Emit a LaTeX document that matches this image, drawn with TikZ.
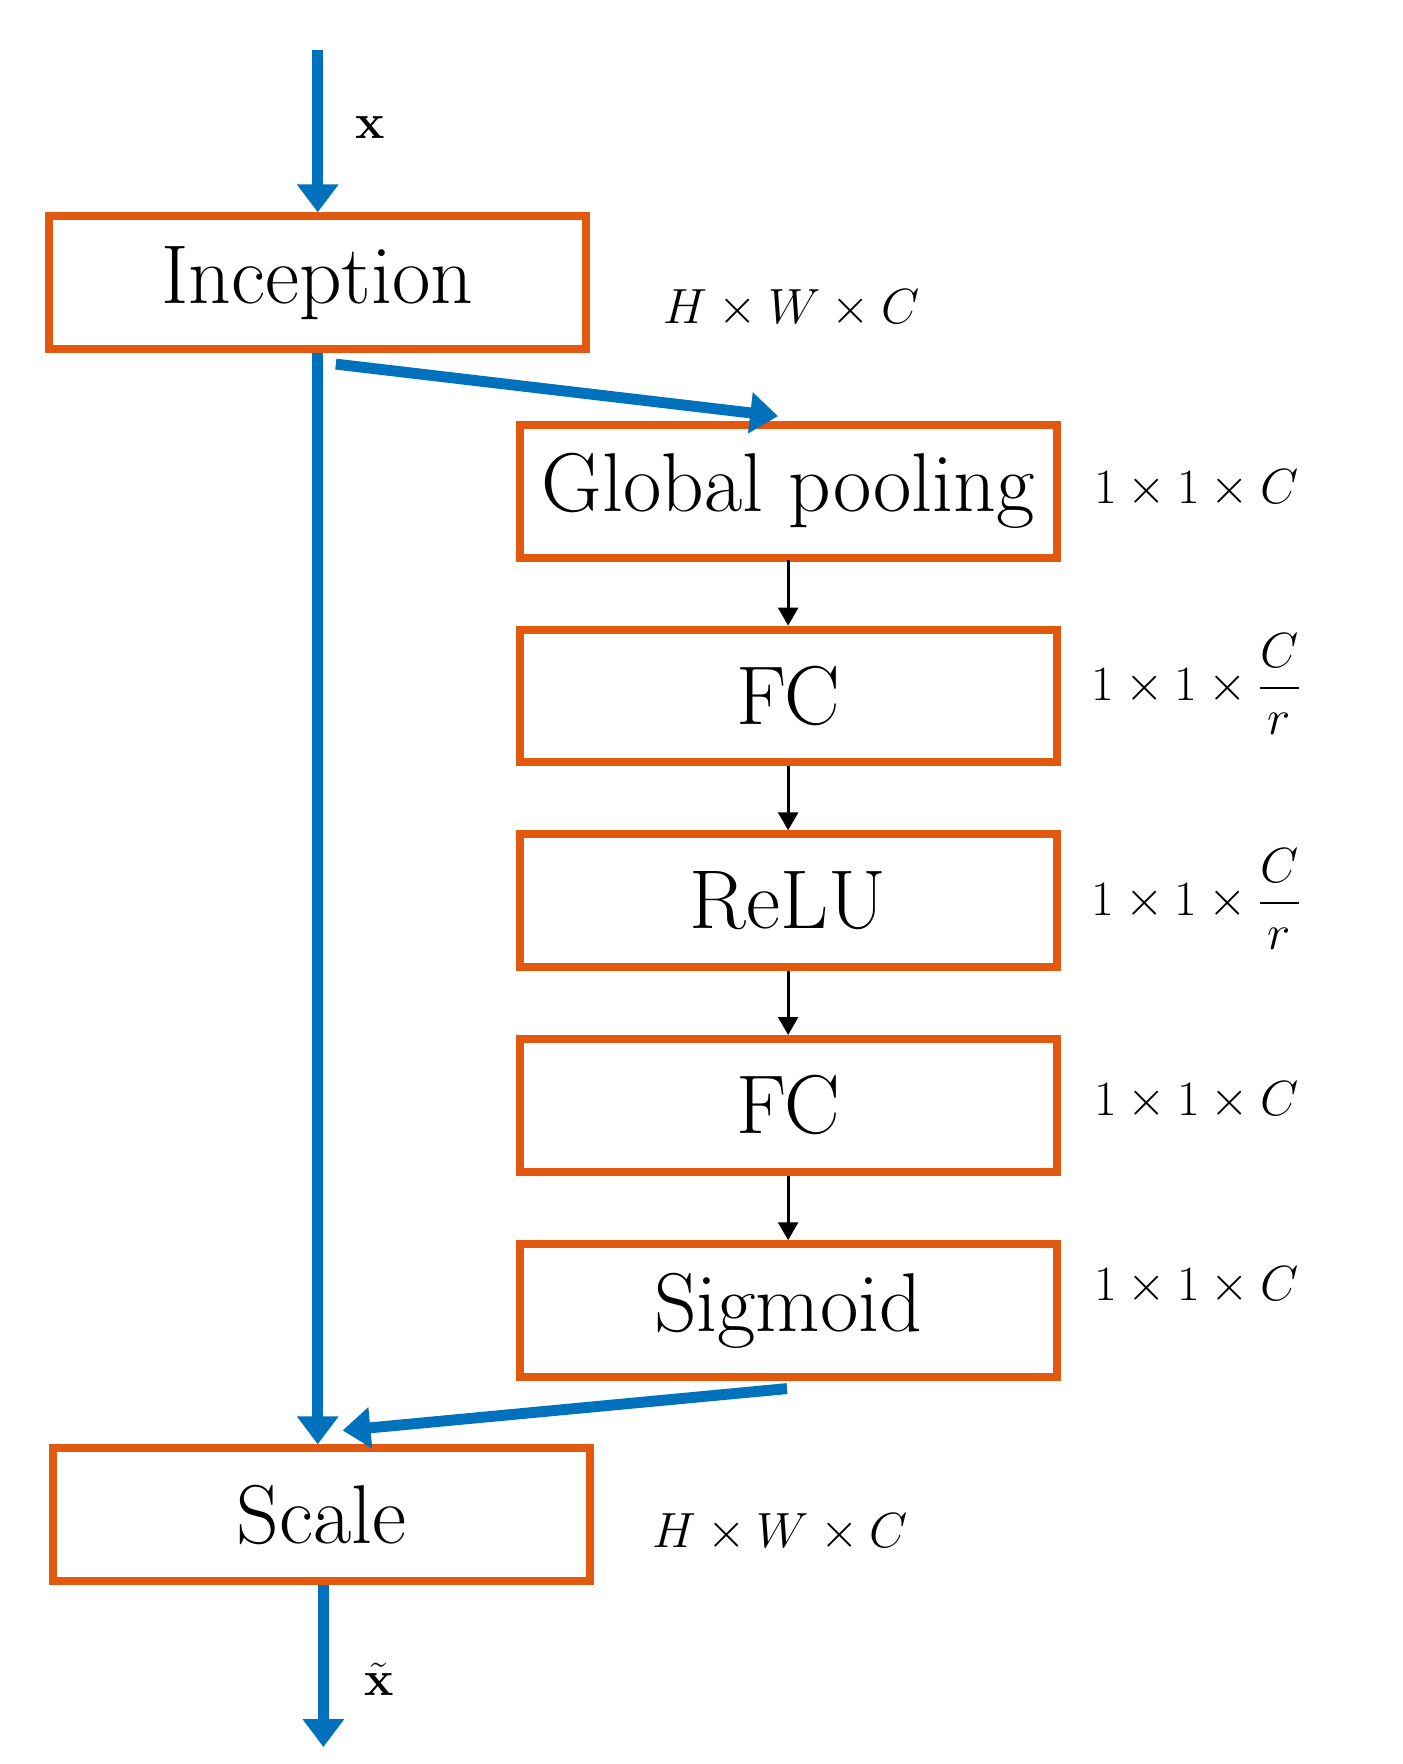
\documentclass[tikz,border=0pt]{standalone}
\usepackage{amsmath,bm}
\usetikzlibrary{arrows.meta}
\definecolor{bl}{RGB}{0,114,189}
\definecolor{or}{RGB}{226,88,14}
\begin{document}
\begin{tikzpicture}[x=0.02cm,y=-0.02cm,
 box/.style={draw=or,line width=4pt,minimum width=9.5cm,minimum height=2.35cm,font=\fontsize{42}{48}\selectfont,inner sep=0pt},
 big/.style={draw=bl,line width=5.5pt,-{Triangle[length=14pt,width=20pt]}},
 sm/.style={draw=black,line width=1.4pt,-{Triangle[length=9pt,width=10pt]}},
 lab/.style={font=\fontsize{36}{40}\selectfont,anchor=center}]
\useasboundingbox (0,0) rectangle (1240,1560);
\node[box] (inc) at (280.5,250) {Inception};
\node[box] (gp) at (697,434.5) {Global pooling};
\node[box] (fc1) at (697,615.5) {FC};
\node[box] (relu) at (697,796.5) {ReLU};
\node[box] (fc2) at (697,977.5) {FC};
\node[box] (sig) at (697,1159) {Sigmoid};
\node[box] (sc) at (284.5,1339.5) {Scale};
\coordinate (top) at (281,44);
\coordinate (bot) at (286,1545);
\coordinate (a1) at (297,322);
\coordinate (a2) at (688,368);
\coordinate (b1) at (696,1228);
\coordinate (b2) at (303,1265);
\draw[big] (top) -- (inc.north -| top);
\draw[big] (inc.south -| top) -- (sc.north -| top);
\draw[big] (a1) -- (a2);
\draw[big] (b1) -- (b2);
\draw[big] (sc.south -| bot) -- (bot);
\draw[sm] (gp) ++(0,61) -- (fc1.north);
\draw[sm] (fc1.south) -- (relu.north);
\draw[sm] (relu.south) -- (fc2.north);
\draw[sm] (fc2.south) -- (sig.north);
\node[lab] (lx) at (327,113) {$\mathbf{x}$};
\node[lab] (lxt) at (335,1485) {$\tilde{\mathbf{x}}$};
\node[lab] (l0) at (700,273) {$H\times W\times C$};
\node[lab] (l1) at (1058,432) {$1\times1\times C$};
\node[lab] (l2) at (1058,605) {$1\times1\times\dfrac{C}{r}$};
\node[lab] (l3) at (1058,795) {$1\times1\times\dfrac{C}{r}$};
\node[lab] (l4) at (1058,973) {$1\times1\times C$};
\node[lab] (l5) at (1058,1137) {$1\times1\times C$};
\node[lab] (l6) at (690,1355) {$H\times W\times C$};
\end{tikzpicture}
\end{document}
